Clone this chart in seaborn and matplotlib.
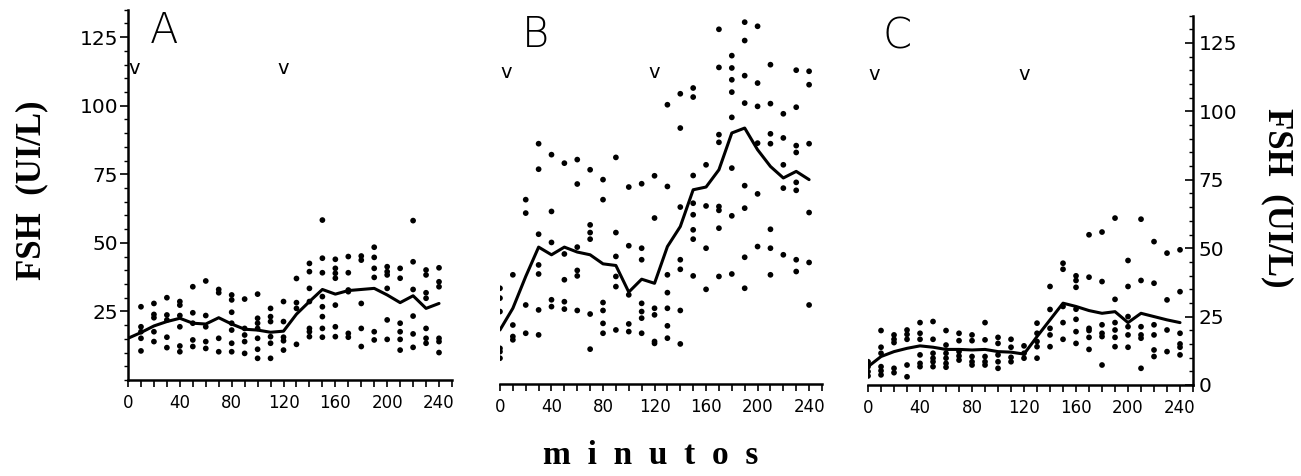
import numpy as np
import pandas as pd
import matplotlib
matplotlib.use("Agg")
import matplotlib.pyplot as plt
from matplotlib.ticker import MultipleLocator
import seaborn as sns

minutes = list(range(0, 250, 10))

# individual FSH values (UI/L) per sampling time, panel A
a_pts = [
    [], [26.7, 19.4, 17.6, 15.2, 10.6], [27.9, 23.9, 22.7, 17.6, 14.0],
    [30.0, 23.7, 21.9, 15.6, 11.8], [28.6, 27.3, 23.5, 19.4, 12.4, 10.3],
    [34.0, 24.5, 20.7, 14.6, 12.2], [36.1, 23.5, 19.4, 14.0, 11.5],
    [33.0, 31.8, 15.2, 10.3], [31.0, 29.2, 24.7, 20.7, 18.2, 13.4, 10.3],
    [29.5, 18.8, 16.4, 14.0, 9.7], [31.3, 22.5, 20.7, 18.8, 15.2, 11.2, 7.9],
    [26.1, 23.1, 21.3, 15.8, 13.4, 7.9], [28.6, 21.3, 15.6, 14.3, 10.9],
    [37.0, 28.2, 26.1, 13.0], [42.5, 39.5, 33.4, 28.6, 18.8, 17.6, 15.8],
    [58.3, 44.4, 39.1, 30.4, 26.7, 23.1, 18.8, 15.6],
    [44.0, 40.7, 38.9, 37.1, 27.3, 19.4, 15.8],
    [45.0, 39.1, 32.8, 32.2, 17.0, 15.6], [45.2, 43.7, 27.9, 18.8, 12.2],
    [48.4, 44.7, 40.7, 37.4, 17.6, 14.6], [41.3, 39.5, 38.3, 33.4, 21.9, 14.8],
    [40.7, 37.1, 20.7, 17.6, 14.8, 10.9], [58.1, 43.1, 33.0, 23.3, 16.8, 11.9],
    [40.1, 38.3, 31.8, 29.8, 18.8, 15.2, 13.4], [40.9, 35.8, 34.0, 15.2, 14.0, 10.0],
]
a_mean = [15.2, 17.3, 19.7, 21.3, 22.5, 20.7, 20.4, 22.7, 20.4, 18.5, 18.2, 17.4,
          17.8, 24.0, 28.6, 33.0, 31.3, 32.6, 33.0, 33.4, 31.0, 28.2, 30.7, 26.1, 27.9]

b_pts = [
    [34.9, 31.3, 26.4, 13.0, 11.8, 9.4], [39.8, 21.5, 17.3, 16.1],
    [67.2, 62.3, 28.8, 18.5], [87.6, 78.3, 54.6, 43.4, 40.1, 27.0, 17.9],
    [83.6, 62.9, 51.6, 30.7, 28.2], [80.5, 47.4, 38.0, 30.0, 27.3],
    [81.8, 72.9, 49.9, 41.4, 39.4, 26.8], [78.1, 58.0, 55.2, 52.8, 25.5, 12.7],
    [74.5, 67.2, 29.7, 26.8, 22.1, 18.5], [82.6, 55.2, 46.5, 39.2, 35.5, 19.7],
    [71.8, 50.4, 32.5, 21.9, 19.1], [73.0, 49.5, 45.3, 29.4, 26.4, 24.0, 18.5],
    [75.9, 60.5, 27.6, 25.2, 15.5, 14.8], [101.8, 72.0, 39.8, 33.3, 27.6, 21.2, 16.7],
    [105.8, 93.3, 64.5, 45.3, 41.8, 26.8, 14.6],
    [107.9, 104.6, 76.0, 65.9, 61.7, 56.2, 52.8, 39.4], [79.9, 64.9, 49.5, 34.5],
    [129.3, 115.4, 90.9, 88.1, 64.7, 63.3, 56.8, 39.2],
    [119.7, 115.2, 110.9, 106.4, 97.2, 78.7, 61.3, 40.1],
    [131.9, 125.2, 112.4, 102.4, 72.3, 64.1, 46.2, 34.9],
    [130.4, 109.7, 101.2, 87.8, 69.3, 50.1],
    [116.4, 102.2, 91.2, 87.6, 56.4, 49.5, 39.8], [98.5, 89.7, 79.9, 71.4, 47.1],
    [114.4, 100.9, 86.9, 84.4, 73.5, 70.6, 45.3, 41.0],
    [114.0, 109.1, 87.6, 62.5, 44.3, 28.8],
]
b_mean = [19.7, 27.6, 39.2, 49.9, 47.1, 49.9, 48.1, 47.1, 43.8, 43.2, 33.5, 38.2,
          36.7, 50.1, 57.4, 70.8, 71.8, 78.1, 91.5, 93.3, 85.4, 79.3, 75.1, 77.5, 74.5]

c_pts = [
    [8.5, 6.7, 4.9, 3.3], [19.9, 13.8, 11.6, 6.7, 5.2, 3.7], [18.3, 16.7, 15.5, 6.1, 4.5],
    [20.1, 18.5, 16.7, 7.3, 3.0], [22.8, 18.9, 16.7, 11.0, 7.9, 6.7],
    [23.2, 16.7, 11.6, 9.8, 8.5, 6.7], [19.9, 14.6, 11.6, 9.8, 7.9, 6.5],
    [18.9, 16.2, 12.2, 10.6, 9.1], [18.3, 16.2, 10.4, 8.5, 7.3],
    [22.8, 16.5, 10.4, 8.5, 7.3], [17.4, 15.2, 11.0, 8.5, 6.1],
    [16.7, 13.8, 10.1, 8.5], [14.3, 11.6, 9.8], [22.6, 18.9, 15.9, 14.0, 9.8],
    [36.0, 27.6, 20.7, 18.3, 14.0], [44.5, 42.3, 28.7, 22.8, 16.7],
    [39.9, 38.2, 35.7, 27.7, 24.0, 19.5, 15.2], [54.9, 39.4, 20.7, 19.9, 17.4, 13.0],
    [55.9, 37.8, 22.0, 18.9, 17.7, 7.3], [61.0, 31.3, 22.8, 20.1, 17.4, 14.0],
    [45.5, 36.0, 25.0, 21.3, 18.3, 13.8], [60.6, 38.2, 21.3, 18.3, 17.1, 6.1],
    [52.4, 37.2, 22.0, 18.3, 12.8, 10.4], [48.2, 31.1, 20.1, 12.2],
    [49.4, 34.1, 18.9, 15.0, 13.8, 11.0],
]
c_mean = [6.7, 10.4, 12.2, 13.4, 14.3, 13.8, 13.0, 13.0, 12.8, 13.0, 12.2, 12.0,
          11.3, 17.7, 23.8, 29.9, 28.7, 27.2, 26.2, 26.8, 22.8, 26.2, 25.0, 23.8, 22.8]

panel_names = ["A", "B", "C"]
injections = [5, 120]


def to_long(pts):
    rows = [(t, v) for t, vals in zip(minutes, pts) for v in vals]
    return pd.DataFrame(rows, columns=["min", "fsh"])


sns.set_style("ticks")
plt.rcParams["font.family"] = ["DejaVu Sans"]
plt.rcParams["text.color"] = "black"
plt.rcParams["xtick.color"] = "black"
plt.rcParams["ytick.color"] = "black"
plt.rcParams["axes.edgecolor"] = "black"

fig = plt.figure(figsize=(13.01, 4.76), dpi=100)
boxes = [
    [0.0984, 0.2017, 0.249, 0.778],
    [0.3843, 0.1933, 0.2475, 0.778],
    [0.6672, 0.1912, 0.2498, 0.776],
]

for i, (pts, mean) in enumerate([(a_pts, a_mean), (b_pts, b_mean), (c_pts, c_mean)]):
    ax = fig.add_axes(boxes[i])
    df = to_long(pts)
    sns.scatterplot(data=df, x="min", y="fsh", ax=ax, color="black",
                    s=17, edgecolor="none", zorder=2)
    sns.lineplot(x=minutes, y=mean, ax=ax, color="black", lw=2.2, zorder=3)

    ax.set_xlim(0, 250)
    ax.set_ylim(0, 135)
    ax.set_xlabel("")
    ax.set_ylabel("")
    ax.set_xticks(range(0, 241, 40))
    ax.xaxis.set_minor_locator(MultipleLocator(10))
    ax.tick_params(axis="x", which="both", direction="out", length=5, width=1.2,
                   labelsize=12, pad=5)
    for s in ["top", "right", "left", "bottom"]:
        ax.spines[s].set_visible(False)
    ax.spines["bottom"].set_visible(True)
    ax.spines["bottom"].set_linewidth(1.8)

    if i == 0:
        ax.spines["left"].set_visible(True)
        ax.spines["left"].set_linewidth(1.8)
        ax.set_yticks([25, 50, 75, 100, 125])
        ax.yaxis.set_minor_locator(MultipleLocator(5))
        ax.tick_params(axis="y", which="major", direction="out", length=6, width=1.2,
                       labelsize=14.5, pad=1)
        ax.tick_params(axis="y", which="minor", direction="out", length=3, width=1)
    elif i == 1:
        ax.set_yticks([])
    else:
        ax.spines["right"].set_visible(True)
        ax.spines["right"].set_linewidth(1.8)
        ax.yaxis.tick_right()
        ax.set_yticks([0, 25, 50, 75, 100, 125])
        ax.yaxis.set_minor_locator(MultipleLocator(5))
        ax.tick_params(axis="y", which="major", direction="in", length=6, width=1.2,
                       labelsize=14.5, pad=4)
        ax.tick_params(axis="y", which="minor", direction="in", length=3, width=1)

    ax.text(17 if i < 2 else 11.5, 123, panel_names[i], fontsize=30,
            fontweight="light", ha="left", va="baseline")
    for t in injections:
        ax.text(t, 113.5, "v", fontsize=14, ha="center", va="center")

fig.text(0.0246, 0.601, "FSH  (UI/L)", rotation=90, fontsize=25, fontweight="bold",
         family="Liberation Serif", ha="center", va="center")
fig.text(0.982, 0.584, "FSH  (UI/L)", rotation=270, fontsize=25, fontweight="bold",
         family="Liberation Serif", ha="center", va="center")
fig.text(0.5, 0.044, "m  i  n  u  t  o  s", fontsize=24, fontweight="bold",
         family="Liberation Serif", ha="center", va="center")

fig.savefig("out.png", dpi=100)
